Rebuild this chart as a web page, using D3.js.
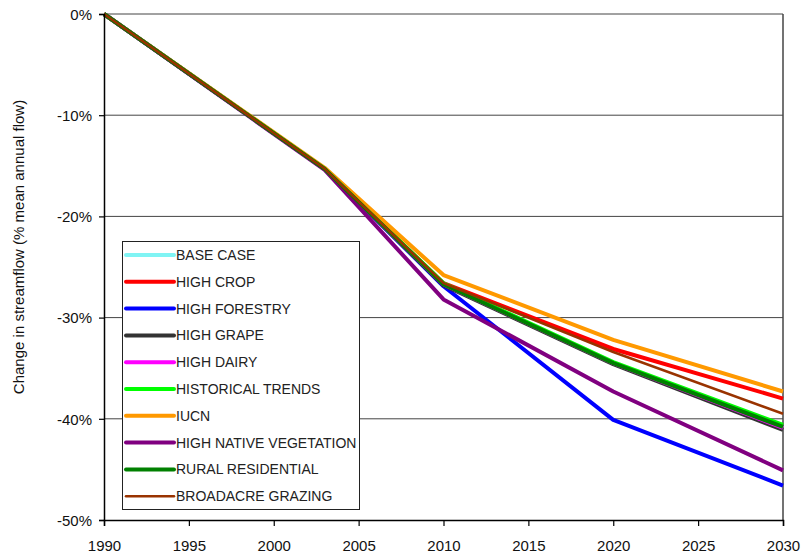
<!DOCTYPE html>
<html>
<head>
<meta charset="utf-8">
<script src="https://cdn.jsdelivr.net/npm/d3@7/dist/d3.min.js"></script>
<style>
  html, body { margin: 0; padding: 0; background: #fff; }
  svg { display: block; font-family: "Liberation Sans", Arial, Helvetica, sans-serif; }
</style>
</head>
<body>
<svg id="chart" width="803" height="555"></svg>
<script>
// Projection years
const years = [1990, 2003, 2010, 2020, 2030];

// Change in streamflow (% of mean annual flow) for each land-use scenario
const baseCase          = [0, -15.3, -26.7, -34.5, -40.9];
const highCrop          = [0, -15.3, -26.6, -33.1, -38.0];
const highForestry      = [0, -15.3, -26.9, -40.1, -46.6];
const highGrape         = [0, -15.3, -26.8, -34.6, -41.1];
const highDairy         = [0, -15.3, -26.7, -34.5, -40.9];
const historicalTrends  = [0, -15.3, -26.6, -34.4, -40.6];
const iucn              = [0, -15.2, -25.8, -32.2, -37.3];
const highNativeVeg     = [0, -15.4, -28.2, -37.3, -45.1];
const ruralResidential  = [0, -15.3, -26.7, -34.5, -40.8];
const broadacreGrazing  = [0, -15.3, -26.6, -33.4, -39.5];

const seriesNames = ["BASE CASE", "HIGH CROP", "HIGH FORESTRY", "HIGH GRAPE", "HIGH DAIRY",
  "HISTORICAL TRENDS", "IUCN", "HIGH NATIVE VEGETATION", "RURAL RESIDENTIAL", "BROADACRE GRAZING"];
const seriesValues = [baseCase, highCrop, highForestry, highGrape, highDairy,
  historicalTrends, iucn, highNativeVeg, ruralResidential, broadacreGrazing];
const seriesColors = ["#80f4f4", "#ff0000", "#0000ff", "#333333", "#ff00ff",
  "#00ff00", "#ff9900", "#800080", "#008000", "#993300"];
const seriesWidths = [4, 4, 4, 4, 4, 4, 4, 4, 4, 2.5];

// Axis ticks
const xTicks = [1990, 1995, 2000, 2005, 2010, 2015, 2020, 2025, 2030];
const yTicks = [0, -10, -20, -30, -40, -50];

const svg = d3.select("#chart");
const plotLeft = 104, plotRight = 783, plotTop = 14, plotBottom = 520;

const x = d3.scaleLinear().domain([1990, 2030]).range([plotLeft, plotRight]);
const y = d3.scaleLinear().domain([-50, 0]).range([plotBottom, plotTop]);

// Horizontal gridlines
svg.append("g")
  .selectAll("line")
  .data(yTicks.filter(v => v !== -50))
  .join("line")
  .attr("x1", plotLeft).attr("x2", plotRight)
  .attr("y1", d => y(d)).attr("y2", d => y(d))
  .attr("stroke", "#444").attr("stroke-width", 1);

// Right border of the plot area
svg.append("line")
  .attr("x1", plotRight).attr("x2", plotRight)
  .attr("y1", plotTop).attr("y2", plotBottom)
  .attr("stroke", "#444").attr("stroke-width", 1.5);

// Scenario lines
const line = d3.line().x((d, i) => x(years[i])).y(d => y(d));
svg.append("g")
  .selectAll("path")
  .data(seriesValues)
  .join("path")
  .attr("d", d => line(d))
  .attr("fill", "none")
  .attr("stroke", (d, i) => seriesColors[i])
  .attr("stroke-width", (d, i) => seriesWidths[i])
  .attr("stroke-linejoin", "round");

// Axes
const xAxis = svg.append("g")
  .attr("transform", `translate(0,${plotBottom})`)
  .call(d3.axisBottom(x).tickValues(xTicks).tickFormat(d3.format("d")).tickSize(6).tickPadding(14));
const yAxis = svg.append("g")
  .attr("transform", `translate(${plotLeft},0)`)
  .call(d3.axisLeft(y).tickValues(yTicks).tickFormat(d => d + "%").tickSize(5).tickPadding(7));

[xAxis, yAxis].forEach(g => {
  g.select(".domain").attr("stroke", "#000").attr("stroke-width", 1.5);
  g.selectAll(".tick line").attr("stroke", "#000").attr("stroke-width", 1.2);
  g.selectAll(".tick text")
    .attr("font-size", 15)
    .attr("fill", "#111")
    .attr("font-family", "'Liberation Sans', Arial, sans-serif");
});
yAxis.selectAll(".tick text").attr("dy", "0.35em");

// Y-axis title
svg.append("text")
  .attr("transform", "translate(24,247) rotate(-90)")
  .attr("text-anchor", "middle")
  .attr("font-size", 15)
  .attr("fill", "#111")
  .text("Change in streamflow (% mean annual flow)");

// Legend
const legend = svg.append("g");
legend.append("rect")
  .attr("x", 122.5).attr("y", 241.5)
  .attr("width", 237).attr("height", 268)
  .attr("fill", "#fff").attr("stroke", "#222").attr("stroke-width", 1);

const rowY = i => 255 + i * 26.8;
const rows = legend.selectAll("g.row")
  .data(seriesNames)
  .join("g")
  .attr("class", "row");
rows.append("line")
  .attr("x1", 126).attr("x2", 174)
  .attr("y1", (d, i) => rowY(i)).attr("y2", (d, i) => rowY(i))
  .attr("stroke", (d, i) => seriesColors[i])
  .attr("stroke-width", (d, i) => seriesWidths[i])
  .attr("stroke-linecap", "round");
rows.append("text")
  .attr("x", 176)
  .attr("y", (d, i) => rowY(i))
  .attr("dy", "0.36em")
  .attr("font-size", 14)
  .attr("fill", "#222")
  .text(d => d);
</script>
</body>
</html>
